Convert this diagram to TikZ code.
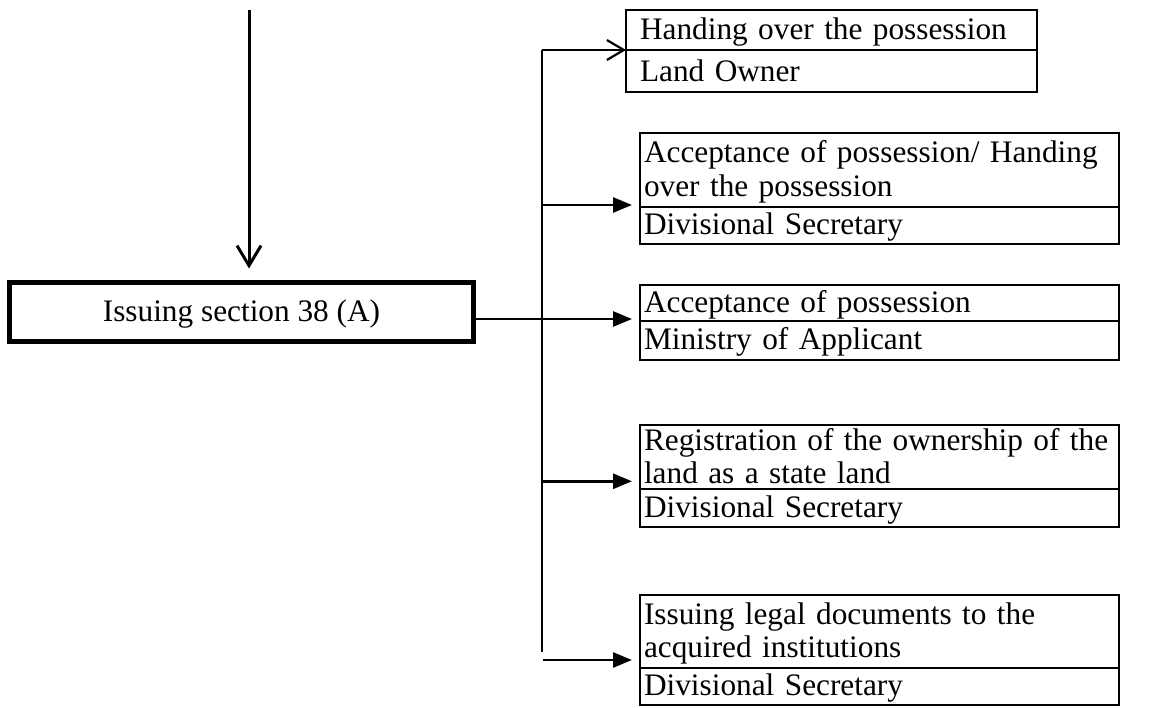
\documentclass[tikz,border=0pt]{standalone}
\usepackage{fontspec}
\setmainfont{Liberation Serif}
\usetikzlibrary{arrows.meta}
\newcommand{\rowstrut}{\rule[-5.5pt]{0pt}{31pt}}
\begin{document}
\begin{tikzpicture}[x=1pt,y=-1pt,
  every node/.style={font=\fontsize{31.3}{31}\selectfont},
  cell/.style={draw, line width=2pt, anchor=north west, outer sep=0pt, inner ysep=0pt, align=left},
  cellA/.style={cell, inner xsep=14pt, text width=383pt},
  cellB/.style={cell, inner xsep=4pt, text width=471pt},
  mainbox/.style={draw, line width=5pt, outer sep=0pt, inner sep=0pt, minimum width=464pt, minimum height=59pt},
  trunkline/.style={line width=1.5pt},
  barbarrow/.style={line width=2.2pt, -{Straight Barb[length=17pt,width=20pt]}},
  triarrow/.style={line width=2.8pt, -{Triangle[length=19pt,width=15pt]}},
  toparrow/.style={line width=3pt, -{Straight Barb[length=20pt,width=24pt]}}
]
\useasboundingbox (0,0) rectangle (1156,707);

% main box
\node[mainbox] (main) at (241.5,312) {\rowstrut Issuing section 38 (A)};

% box 1
\node[cellA, minimum height=40pt] (b1a) at (626,10) {\rowstrut\mbox{Handing over the possession}};
\node[cellA, minimum height=42pt] (b1b) at (b1a.south west) {\rowstrut\mbox{Land Owner}};

% box 2
\node[cellB, minimum height=74pt] (b2a) at (640,133) {\rowstrut\mbox{Acceptance of possession/ Handing}\\\rowstrut\mbox{over the possession}};
\node[cellB, minimum height=37pt] (b2b) at (b2a.south west) {\rowstrut\mbox{Divisional Secretary}};

% box 3
\node[cellB, minimum height=36pt] (b3a) at (640,285) {\rowstrut\mbox{Acceptance of possession}};
\node[cellB, minimum height=39pt] (b3b) at (b3a.south west) {\rowstrut\mbox{Ministry of Applicant}};

% box 4
\node[cellB, minimum height=64pt] (b4a) at (640,425) {\rowstrut\mbox{Registration of the ownership of the}\\\rowstrut\mbox{land as a state land}};
\node[cellB, minimum height=38pt] (b4b) at (b4a.south west) {\rowstrut\mbox{Divisional Secretary}};

% box 5
\node[cellB, minimum height=73pt] (b5a) at (640,595) {\rowstrut\mbox{Issuing legal documents to the}\\\rowstrut\mbox{acquired institutions}};
\node[cellB, minimum height=37pt] (b5b) at (b5a.south west) {\rowstrut\mbox{Divisional Secretary}};

% top arrow
\coordinate (topstart) at (249,10);
\coordinate (topend) at ([yshift=14pt]main.north);
\draw[toparrow] (topstart) -- (topend -| topstart);

% trunk
\coordinate (trunktop) at (542,50);
\coordinate (trunkbot) at (542,652);
\draw[trunkline] (trunktop) -- (trunkbot);

% arrow ends
\coordinate (e2) at ([shift={(-8pt,2pt)}]b2a.south west);
\coordinate (e3) at ([shift={(-8pt,2pt)}]b3a.south west);
\coordinate (e4) at ([shift={(-8pt,8pt)}]b4a.south west);
\coordinate (e5) at ([shift={(-8pt,8pt)}]b5a.south west);

\draw[barbarrow] (trunktop) -- (b1a.south west);
\draw[triarrow] (trunktop |- e2) -- (e2);
\draw[triarrow] (main.east |- e3) -- (e3);
\draw[triarrow] (trunktop |- e4) -- (e4);
\draw[triarrow] ([xshift=1pt]trunktop |- e5) -- (e5);
\end{tikzpicture}
\end{document}
